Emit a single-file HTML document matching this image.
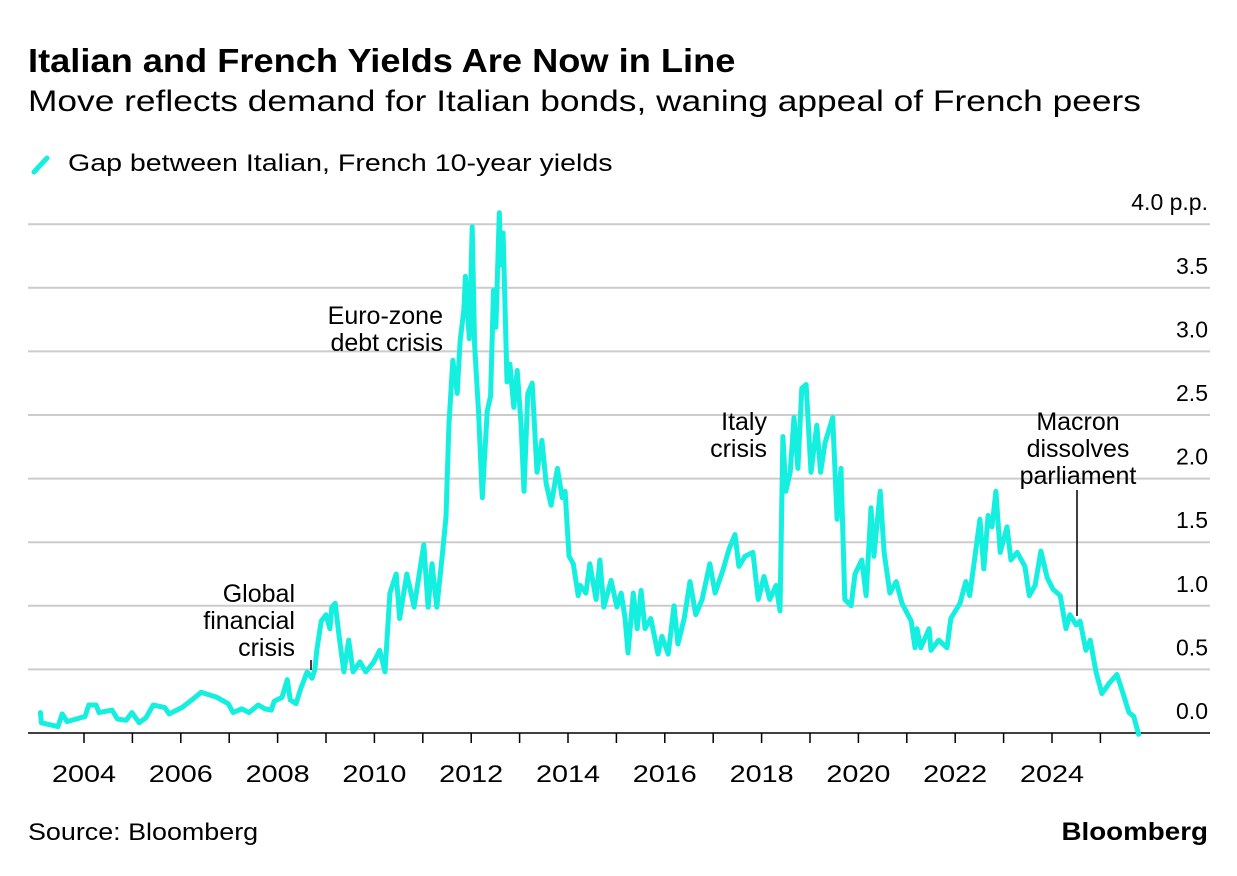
<!DOCTYPE html>
<html><head><meta charset="utf-8">
<style>
body{margin:0;background:#fff;font-family:"Liberation Sans",sans-serif;}
#wrap{position:relative;width:1237px;height:876px;overflow:hidden;background:#fff;}
.t{position:absolute;white-space:nowrap;color:#000;transform-origin:left top;}
</style></head>
<body>
<div id="wrap">
<div class="t" style="left:28px;top:42px;font-size:33px;font-weight:bold;transform:scaleX(1.098);">Italian and French Yields Are Now in Line</div>
<div class="t" style="left:28px;top:85px;font-size:30px;transform:scaleX(1.177);">Move reflects demand for Italian bonds, waning appeal of French peers</div>
<svg width="22" height="24" style="position:absolute;left:30px;top:152px"><line x1="4" y1="20" x2="17" y2="6" stroke="#14efe0" stroke-width="5" stroke-linecap="round"/></svg>
<div class="t" style="left:68px;top:150px;font-size:24px;transform:scaleX(1.19);">Gap between Italian, French 10-year yields</div>
<svg id="chart" width="1237" height="876" style="position:absolute;left:0;top:0"></svg>
<div class="t" style="left:28px;top:819px;font-size:24px;transform:scaleX(1.12);">Source: Bloomberg</div>
<div class="t" style="right:29px;top:818px;font-size:25px;font-weight:bold;transform-origin:right top;transform:scaleX(1.11);">Bloomberg</div>
</div>
<script>
const yTicks=[0,0.5,1,1.5,2,2.5,3,3.5,4];
const yTickLabels=["0.0","0.5","1.0","1.5","2.0","2.5","3.0","3.5","4.0 p.p."];
const xTickYears=[2004,2006,2008,2010,2012,2014,2016,2018,2020,2022,2024];
const dates=[2003.10,2003.12,2003.46,2003.55,2003.65,2004.02,2004.10,2004.25,2004.31,2004.58,2004.69,2004.87,2004.99,2005.14,2005.28,2005.43,2005.67,2005.76,2006.02,2006.23,2006.42,2006.75,2006.98,2007.08,2007.26,2007.41,2007.60,2007.74,2007.87,2007.93,2008.09,2008.20,2008.26,2008.38,2008.48,2008.61,2008.71,2008.77,2008.81,2008.90,2009.00,2009.08,2009.12,2009.19,2009.27,2009.37,2009.47,2009.56,2009.70,2009.82,2009.99,2010.11,2010.22,2010.32,2010.45,2010.52,2010.67,2010.82,2010.89,2011.02,2011.11,2011.19,2011.29,2011.40,2011.48,2011.54,2011.62,2011.71,2011.77,2011.85,2011.88,2011.96,2012.02,2012.07,2012.15,2012.23,2012.33,2012.40,2012.46,2012.51,2012.58,2012.62,2012.66,2012.74,2012.80,2012.88,2012.95,2013.03,2013.09,2013.17,2013.26,2013.36,2013.46,2013.55,2013.65,2013.78,2013.88,2013.94,2014.02,2014.11,2014.21,2014.25,2014.37,2014.45,2014.58,2014.66,2014.74,2014.89,2015.01,2015.10,2015.18,2015.24,2015.35,2015.43,2015.51,2015.59,2015.71,2015.86,2015.94,2016.07,2016.19,2016.27,2016.40,2016.52,2016.64,2016.77,2016.93,2017.04,2017.20,2017.33,2017.45,2017.53,2017.66,2017.82,2017.93,2018.05,2018.17,2018.30,2018.38,2018.44,2018.50,2018.59,2018.67,2018.75,2018.83,2018.92,2019.02,2019.14,2019.22,2019.31,2019.47,2019.56,2019.64,2019.72,2019.85,2019.93,2020.07,2020.16,2020.26,2020.32,2020.45,2020.53,2020.65,2020.78,2020.90,2021.09,2021.17,2021.21,2021.29,2021.46,2021.50,2021.66,2021.83,2021.91,2022.10,2022.22,2022.30,2022.43,2022.51,2022.59,2022.68,2022.76,2022.84,2022.93,2023.07,2023.15,2023.28,2023.44,2023.53,2023.65,2023.77,2023.90,2024.02,2024.17,2024.29,2024.37,2024.50,2024.58,2024.70,2024.79,2024.91,2025.03,2025.18,2025.34,2025.47,2025.59,2025.69,2025.79];
const spread=[0.16,0.08,0.05,0.15,0.09,0.13,0.22,0.22,0.16,0.18,0.11,0.10,0.16,0.08,0.12,0.22,0.20,0.15,0.20,0.26,0.32,0.28,0.23,0.16,0.19,0.16,0.22,0.19,0.18,0.25,0.28,0.42,0.26,0.23,0.35,0.48,0.43,0.50,0.65,0.88,0.93,0.82,0.99,1.02,0.76,0.48,0.73,0.48,0.56,0.48,0.56,0.65,0.48,1.10,1.25,0.90,1.25,0.99,1.16,1.48,0.99,1.33,0.99,1.39,1.70,2.42,2.93,2.67,3.08,3.33,3.59,3.10,3.98,3.05,2.53,1.85,2.53,2.65,3.48,3.19,4.09,3.68,3.93,2.76,2.90,2.56,2.85,2.42,1.90,2.67,2.75,2.05,2.30,1.96,1.79,2.08,1.85,1.90,1.39,1.33,1.08,1.16,1.10,1.33,1.05,1.36,0.99,1.20,0.99,1.10,0.90,0.63,1.10,0.82,1.12,0.82,0.90,0.62,0.76,0.62,1.00,0.70,0.90,1.19,0.93,1.05,1.33,1.10,1.28,1.45,1.56,1.31,1.39,1.42,1.05,1.23,1.05,1.16,0.96,2.33,1.90,2.05,2.48,2.08,2.71,2.74,2.05,2.42,2.05,2.28,2.48,1.68,2.08,1.05,1.00,1.25,1.36,1.08,1.77,1.39,1.90,1.42,1.10,1.19,1.02,0.88,0.67,0.82,0.67,0.82,0.65,0.73,0.67,0.90,1.02,1.19,1.08,1.45,1.68,1.29,1.71,1.62,1.90,1.42,1.62,1.36,1.42,1.31,1.08,1.16,1.43,1.22,1.13,1.08,0.82,0.93,0.85,0.88,0.65,0.73,0.48,0.31,0.39,0.46,0.31,0.16,0.13,-0.01];
const NS="http://www.w3.org/2000/svg";
const svg=document.getElementById('chart');
function x(yr){return 35.6+(yr-2003)*48.4;}
function y(v){return 733-v*127.2;}
function mk(tag,attrs){const e=document.createElementNS(NS,tag);for(const k in attrs)e.setAttribute(k,attrs[k]);svg.appendChild(e);return e;}
yTicks.forEach((v,i)=>{
  if(v>0){const g=mk('line',{x1:28,x2:1210,y1:y(v),y2:y(v),stroke:'#cccccc','stroke-width':2});
  
  }
  const t=mk('text',{x:1208,y:y(v)-14,'text-anchor':'end','font-size':23,'font-family':'Liberation Sans, sans-serif',fill:'#000'});
  t.textContent=yTickLabels[i];
  
  
});
for(let yr=2004;yr<=2025;yr++){
  const tk=mk('line',{x1:x(yr),x2:x(yr),y1:733,y2:743,stroke:'#000','stroke-width':1.5});
  
  
}
xTickYears.forEach(yr=>{
  const t=mk('text',{x:x(yr),y:782,'text-anchor':'middle','font-size':24,'font-family':'Liberation Sans, sans-serif',fill:'#000',textLength:64,lengthAdjust:'spacingAndGlyphs'});
  t.textContent=yr;
  
  
});
const ax=mk('line',{x1:28,x2:1210,y1:733,y2:733,stroke:'#000','stroke-width':1.5});


let d='';dates.forEach((t,i)=>{d+=(i?'L':'M')+x(t).toFixed(1)+' '+y(spread[i]).toFixed(1);});
const p=mk('path',{d:d,fill:'none',stroke:'#14efe0','stroke-width':5,'stroke-linejoin':'round','stroke-linecap':'round'});


function ann(lines,xx,yy,anchor,name){
  lines.forEach((s,i)=>{const t=mk('text',{x:xx,y:yy+i*27,'text-anchor':anchor,'font-size':25,'font-family':'Liberation Sans, sans-serif',fill:'#000'});
  t.textContent=s;
  
  });
}
ann(["Global","financial","crisis"],295,602,'end','annotation-gfc');
ann(["Euro-zone","debt crisis"],443,324,'end','annotation-eurozone');
ann(["Italy","crisis"],767,430,'end','annotation-italy');
ann(["Macron","dissolves","parliament"],1078,430,'middle','annotation-macron');
const l1=mk('line',{x1:311,x2:311,y1:660,y2:670,stroke:'#000','stroke-width':1.5});


const l2=mk('line',{x1:1077,x2:1077,y1:490,y2:616,stroke:'#000','stroke-width':1.5});


</script>
</body></html>
